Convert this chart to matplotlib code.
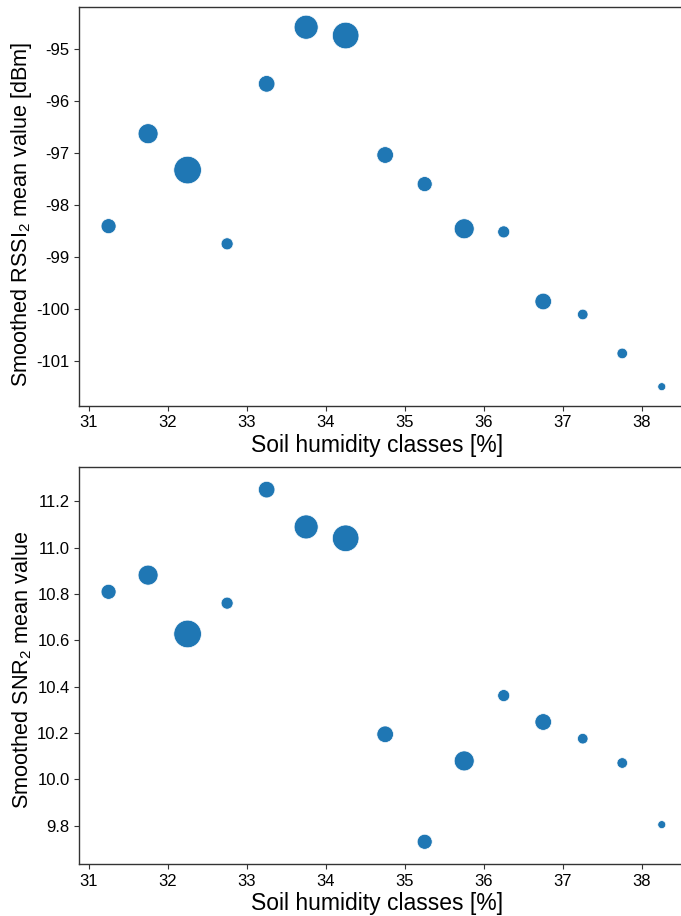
import matplotlib
matplotlib.use("Agg")
import matplotlib.pyplot as plt

plt.rcParams['font.family'] = ['Liberation Sans', 'DejaVu Sans']
plt.rcParams['mathtext.fontset'] = 'custom'
plt.rcParams['mathtext.rm'] = 'Liberation Sans'
plt.rcParams['mathtext.it'] = 'Liberation Sans'

humidity = [31.25, 31.75, 32.25, 32.75, 33.25, 33.75, 34.25, 34.75,
            35.25, 35.75, 36.25, 36.75, 37.25, 37.75, 38.25]
rssi = [-98.41, -96.63, -97.33, -98.75, -95.67, -94.58, -94.74, -97.04,
        -97.60, -98.46, -98.52, -99.86, -100.11, -100.86, -101.50]
snr = [10.809, 10.881, 10.627, 10.760, 11.250, 11.089, 11.040, 10.194,
       9.730, 10.079, 10.361, 10.247, 10.175, 10.070, 9.804]
marker_area = [117, 207, 395, 75, 143, 299, 367, 143,
               117, 207, 75, 143, 58, 58, 33]

rssi_ticks = [-95, -96, -97, -98, -99, -100, -101]
snr_ticks = [9.8, 10.0, 10.2, 10.4, 10.6, 10.8, 11.0, 11.2]
x_ticks = [31, 32, 33, 34, 35, 36, 37, 38]

fig = plt.figure(figsize=(6.81, 9.16), dpi=100)
ax1 = fig.add_axes([0.1165, 0.5571, 1.0147 - 0.1165, 0.992 - 0.5571])
ax2 = fig.add_axes([0.1165, 0.0565, 1.0147 - 0.1165, 0.4905 - 0.0565])

color = '#1f77b4'
for ax, y, ticks, ylim, ylabel, fmt, ly in [
        (ax1, rssi, rssi_ticks, (-101.866, -94.197),
         r'Smoothed RSSI$_\mathregular{2}$ mean value [dBm]', '{:.0f}', 0.48),
        (ax2, snr, snr_ticks, (9.633, 11.349),
         r'Smoothed SNR$_\mathregular{2}$ mean value', '{:.1f}', 0.49)]:
    ax.scatter(humidity, y, s=marker_area, color=color, edgecolor='white',
               linewidth=0.5, zorder=3)
    ax.set_xlim(30.88, 38.62)
    ax.set_ylim(*ylim)
    ax.set_xticks(x_ticks)
    ax.set_xticklabels([str(t) for t in x_ticks])
    ax.set_yticks(ticks)
    ax.set_yticklabels([fmt.format(t) for t in ticks])
    ax.tick_params(labelsize=12, length=3.5, width=0.8, color='#333333')
    ax.set_xlabel('Soil humidity classes [%]', fontsize=16.5)
    ax.set_ylabel(ylabel, fontsize=15.6)
    ax.xaxis.set_label_coords(0.486, -0.07)
    ax.yaxis.set_label_coords(-0.074, ly)
    for sp in ax.spines.values():
        sp.set_color('#333333')
        sp.set_linewidth(1.0)

fig.savefig('out.png', dpi=100)
